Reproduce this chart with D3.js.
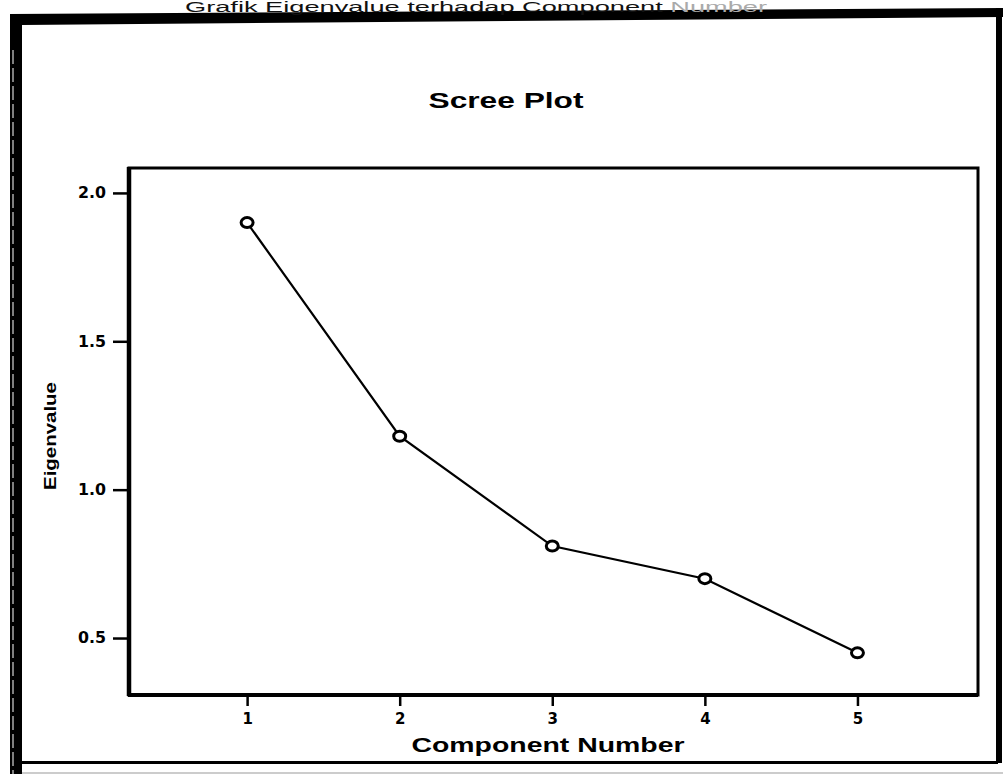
<!DOCTYPE html>
<html>
<head>
<meta charset="utf-8">
<script src="https://cdn.jsdelivr.net/npm/d3@7"></script>
<style>
  html, body { margin: 0; padding: 0; background: #fff; }
  svg { display: block; }
</style>
</head>
<body>
<script>
// ---- data ----
const components = [1, 2, 3, 4, 5];
const eigenvalues = [1.90, 1.18, 0.81, 0.70, 0.45];
const yTicks = [0.5, 1.0, 1.5, 2.0];
const xTicks = [1, 2, 3, 4, 5];
const chartTitle = "Scree Plot";
const xTitle = "Component Number";
const yTitle = "Eigenvalue";
const captionMain = "Grafik Eigenvalue terhadap Component ";
const captionFaded = "Number";

const W = 1003, H = 774;
const SANS = "'Liberation Sans', Arial, sans-serif";
const WIDE = "'DejaVu Sans', sans-serif";
const svg = d3.select("body").append("svg").attr("width", W).attr("height", H);

// outer frame (scanned border)
svg.append("rect").attr("x", 10).attr("y", 14).attr("width", 12).attr("height", H - 14).attr("fill", "#000");
svg.append("line").attr("x1", 13).attr("x2", 13).attr("y1", 50).attr("y2", H).attr("stroke", "#fff").attr("stroke-width", 1).attr("stroke-dasharray", "14 4");
svg.append("path").attr("d", "M10,14 L1003,8 L1003,17 L22,25 Z").attr("fill", "#000");
svg.append("rect").attr("x", 996).attr("y", 8).attr("width", 6).attr("height", 755).attr("fill", "#000");
svg.append("rect").attr("x", 22).attr("y", 761).attr("width", 976).attr("height", 3).attr("fill", "#000");
svg.append("line").attr("x1", 22).attr("x2", 1003).attr("y1", 773).attr("y2", 773).attr("stroke", "#999").attr("stroke-width", 1);

// caption at top
const cap = svg.append("text").attr("x", 185).attr("y", 12)
  .style("font-family", SANS).style("font-size", "14px").attr("fill", "#111")
  .attr("textLength", 582).attr("lengthAdjust", "spacingAndGlyphs");
cap.append("tspan").text(captionMain);
cap.append("tspan").attr("fill", "#aaa").text(captionFaded);

// plot area
const L = 129, T = 168, R = 978, B = 695;
const x = d3.scaleLinear().domain([0.226, 5.79]).range([L, R]);
const y = d3.scaleLinear().domain([0.308, 2.084]).range([B, T]);

svg.append("rect").attr("x", L).attr("y", T).attr("width", R - L).attr("height", B - T)
  .attr("fill", "none").attr("stroke", "#000").attr("stroke-width", 3);
svg.append("line").attr("x1", L).attr("x2", L).attr("y1", T - 1).attr("y2", B + 1).attr("stroke", "#000").attr("stroke-width", 4.5);
svg.append("line").attr("x1", L - 1).attr("x2", R).attr("y1", B).attr("y2", B).attr("stroke", "#000").attr("stroke-width", 4);

// y axis
const yAxis = svg.append("g").attr("transform", `translate(${L},0)`)
  .call(d3.axisLeft(y).tickValues(yTicks).tickFormat(d3.format(".1f")).tickSize(16).tickPadding(7));
yAxis.select(".domain").remove();
yAxis.selectAll(".tick line").attr("stroke", "#000").attr("stroke-width", 2.5);
yAxis.selectAll(".tick text")
  .style("font-family", WIDE).style("font-size", "15px").style("font-weight", "bold").attr("fill", "#000")
  .attr("textLength", 28).attr("lengthAdjust", "spacingAndGlyphs");

// x axis
const xAxis = svg.append("g").attr("transform", `translate(0,${B})`)
  .call(d3.axisBottom(x).tickValues(xTicks).tickFormat(d3.format("d")).tickSize(11).tickPadding(7));
xAxis.select(".domain").remove();
xAxis.selectAll(".tick line").attr("stroke", "#000").attr("stroke-width", 2.5);
xAxis.selectAll(".tick text")
  .style("font-family", WIDE).style("font-size", "15px").style("font-weight", "bold").attr("fill", "#000");

// line + markers
const data = components.map((c, i) => ({ c, v: eigenvalues[i] }));
svg.append("path").datum(data)
  .attr("d", d3.line().x(d => x(d.c)).y(d => y(d.v)))
  .attr("fill", "none").attr("stroke", "#000").attr("stroke-width", 2.2);
svg.selectAll("ellipse.pt").data(data).enter().append("ellipse")
  .attr("class", "pt")
  .attr("cx", d => x(d.c)).attr("cy", d => y(d.v))
  .attr("rx", 6).attr("ry", 5)
  .attr("fill", "#fff").attr("stroke", "#000").attr("stroke-width", 3);

// titles
svg.append("text").attr("x", 506).attr("y", 108).attr("text-anchor", "middle")
  .style("font-family", SANS).style("font-size", "22px").style("font-weight", "bold").attr("fill", "#000")
  .attr("textLength", 155).attr("lengthAdjust", "spacingAndGlyphs").text(chartTitle);
svg.append("text").attr("x", 548).attr("y", 752).attr("text-anchor", "middle")
  .style("font-family", SANS).style("font-size", "21px").style("font-weight", "bold").attr("fill", "#000")
  .attr("textLength", 273).attr("lengthAdjust", "spacingAndGlyphs").text(xTitle);
svg.append("text").attr("transform", "translate(56,490) rotate(-90)").attr("text-anchor", "start")
  .style("font-family", SANS).style("font-size", "17px").style("font-weight", "bold").attr("fill", "#000")
  .attr("textLength", 108).attr("lengthAdjust", "spacingAndGlyphs").text(yTitle);
</script>
</body>
</html>
